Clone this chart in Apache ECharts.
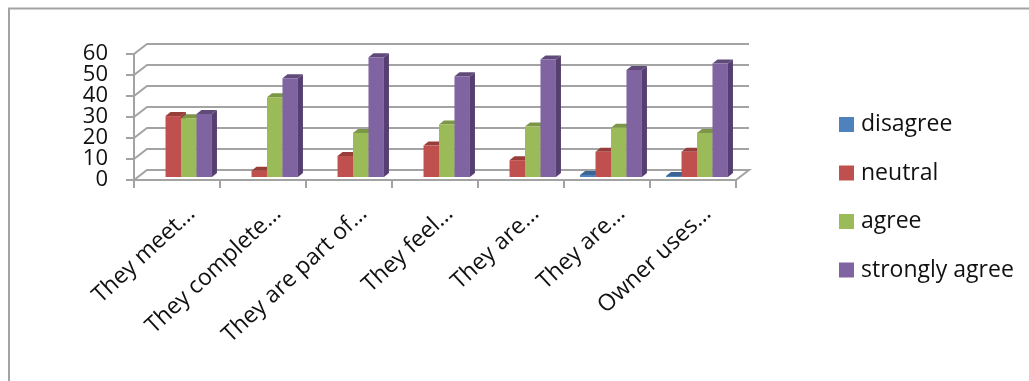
<!DOCTYPE html>
<html>
<head>
<meta charset="utf-8">
<style>html,body{margin:0;padding:0;background:#fff}#chart{width:1029px;height:381px}</style>
<script src="https://cdn.jsdelivr.net/npm/echarts@6/dist/echarts.min.js"></script>
</head>
<body>
<div id="chart"></div>
<script>
const categories = ['They meet…', 'They complete…', 'They are part of…', 'They feel…', 'They are…', 'They are…', 'Owner uses…'];
const disagree = [0, 0, 0, 0, 0, 1, 0.5];
const neutral = [29, 3, 10, 15, 8, 12, 12];
const agree = [28, 38, 21, 25, 24, 23.5, 21];
const stronglyAgree = [30, 47, 57, 48, 56, 51, 54];
const yTicks = [0, 10, 20, 30, 40, 50, 60];

const FONT = '"Open Sans", sans-serif';
const GRID_COLOR = '#a3a3a3';
const DEPTH_X = 13, DEPTH_Y = 10;   // offset of the back wall from the front plane
const BAR_DX = 4, BAR_DY = -3;      // bars stand slightly inside the floor
const BAR_DEPTH_X = 5, BAR_DEPTH_Y = 4;
const VALUE_LABEL_GAP = 26;

// Back wall lines, the short diagonals joining them to the value axis,
// and the value label of each tick (the labels sit too close for the axis
// to keep them all, so they are placed here at the same scale positions).
function renderWall(params, api) {
  const v = api.value(0);
  const front = api.coord([0, v]);
  const band = api.size([1, 0])[0];
  const x0 = front[0] - band / 2;
  const y = front[1];
  const x1 = x0 + band * categories.length;
  const pts = [[x0, y], [x0 + DEPTH_X, y - DEPTH_Y], [x1 + DEPTH_X, y - DEPTH_Y]];
  if (v === 0) pts.push([x1, y]);
  return {
    type: 'group',
    children: [
      {
        type: 'polyline',
        shape: { points: pts },
        style: { fill: null, stroke: GRID_COLOR, lineWidth: 2 }
      },
      {
        type: 'text',
        style: {
          x: x0 - VALUE_LABEL_GAP,
          y: y,
          text: String(v),
          align: 'right',
          verticalAlign: 'middle',
          font: '22px ' + FONT,
          fill: '#111'
        }
      }
    ]
  };
}

// One extruded column: side and top faces first, then the front face.
function barRenderer(seriesIndex, front, top, side) {
  return function (params, api) {
    const v = api.value(1);
    if (!v) return { type: 'group', children: [] };
    const band = api.size([1, 0])[0];
    const w = band * 0.18;
    const c = api.coord([api.value(0), v]);
    const b = api.coord([api.value(0), 0]);
    const l = c[0] + BAR_DX + (seriesIndex - 2) * w;
    const r = l + w;
    const t = c[1] + BAR_DY;
    const y0 = b[1] + BAR_DY;
    return {
      type: 'group',
      children: [
        { type: 'polygon', shape: { points: [[r, t], [r + BAR_DEPTH_X, t - BAR_DEPTH_Y], [r + BAR_DEPTH_X, y0 - BAR_DEPTH_Y], [r, y0]] }, style: { fill: side } },
        { type: 'polygon', shape: { points: [[l, t], [l + BAR_DEPTH_X, t - BAR_DEPTH_Y], [r + BAR_DEPTH_X, t - BAR_DEPTH_Y], [r, t]] }, style: { fill: top } },
        { type: 'rect', shape: { x: l, y: t, width: w, height: y0 - t }, style: { fill: front } }
      ]
    };
  };
}

function barSeries(name, values, index, front, top, side) {
  return {
    type: 'custom',
    name: name,
    z: 3 + index,
    itemStyle: { color: front },
    renderItem: barRenderer(index, front, top, side),
    data: values.map((v, i) => [i, v]),
    encode: { x: 0, y: 1 }
  };
}

const chart = echarts.init(document.getElementById('chart'), null, { renderer: 'canvas' });
chart.setOption({
  animation: false,
  backgroundColor: '#fff',
  grid: { left: 134, width: 602, top: 54, height: 126 },
  legend: {
    orient: 'vertical',
    left: 834,
    top: 108,
    itemWidth: 15,
    itemHeight: 15,
    itemGap: 25.5,
    icon: 'rect',
    data: ['disagree', 'neutral', 'agree', 'strongly agree'],
    textStyle: { fontFamily: FONT, fontSize: 23, color: '#111', padding: [0, 0, 0, 2] }
  },
  xAxis: {
    type: 'category',
    data: categories,
    boundaryGap: true,
    axisLine: { show: true, onZero: false, lineStyle: { color: GRID_COLOR, width: 2 } },
    axisTick: { show: true, length: 8, interval: 0, lineStyle: { color: GRID_COLOR, width: 2 } },
    axisLabel: { interval: 0, rotate: 43, margin: 44, padding: [0, -20, 0, 0], fontFamily: FONT, fontSize: 23, color: '#111' }
  },
  yAxis: {
    type: 'value',
    min: 0,
    max: 60,
    interval: 10,
    axisLine: { show: true, lineStyle: { color: GRID_COLOR, width: 2 } },
    axisTick: { show: true, length: 8, lineStyle: { color: GRID_COLOR, width: 2 } },
    splitLine: { show: false },
    axisLabel: { show: false }
  },
  graphic: [
    // Frame around the chart area
    { type: 'polyline', silent: true, shape: { points: [[9, 381], [9, 8.5], [1029, 8.5]] }, style: { fill: null, stroke: GRID_COLOR, lineWidth: 2 } }
  ],
  series: [
    {
      type: 'custom',
      name: 'wall',
      z: 1,
      silent: true,
      renderItem: renderWall,
      data: yTicks.map(v => [v]),
      encode: { y: 0 }
    },
    barSeries('disagree', disagree, 0, '#4f81bd', '#3a6496', '#3a6496'),
    barSeries('neutral', neutral, 1, '#c0504d', '#973e3b', '#8f3b39'),
    barSeries('agree', agree, 2, '#9bbb59', '#7b9646', '#73893f'),
    barSeries('strongly agree', stronglyAgree, 3, '#8064a2', '#5f4a79', '#553f70')
  ]
});
</script>
</body>
</html>
